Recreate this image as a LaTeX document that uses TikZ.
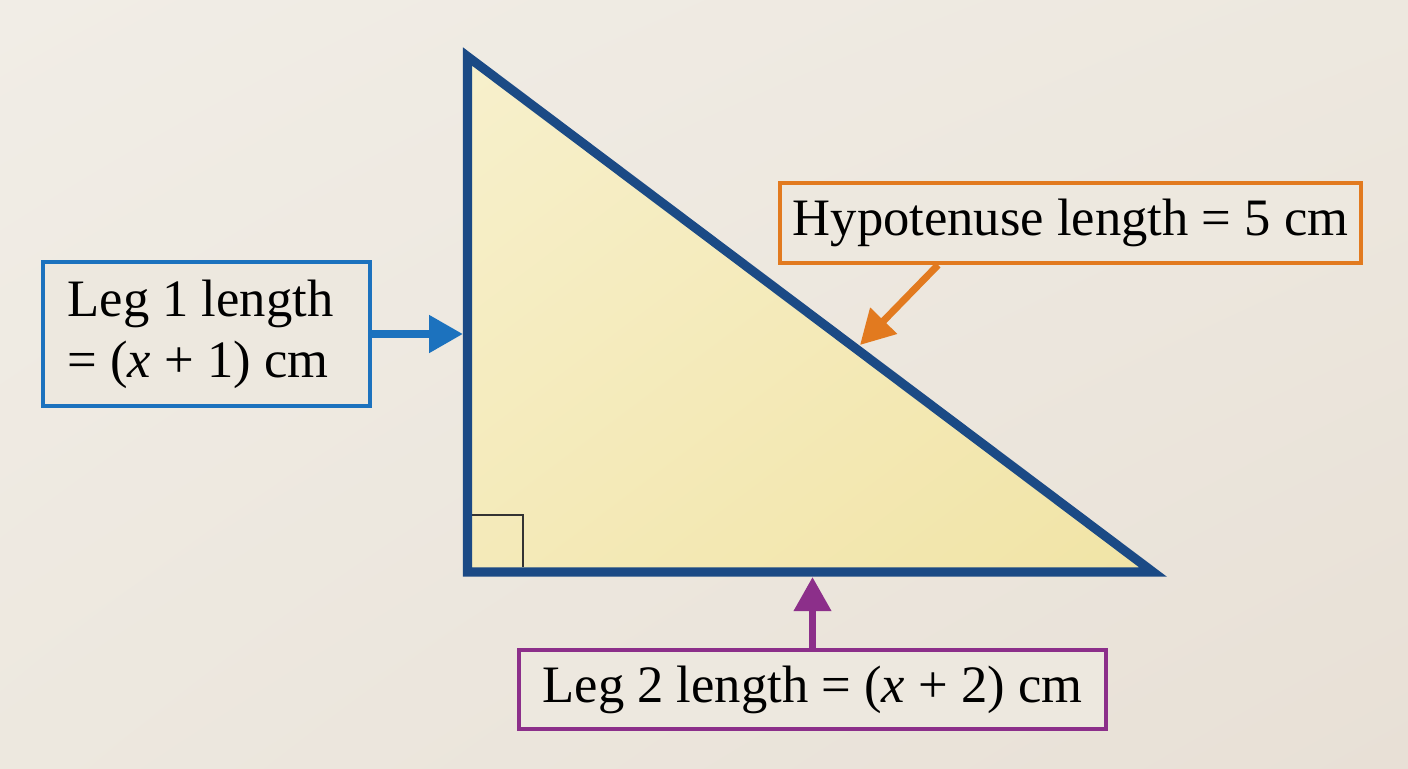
\documentclass[tikz,border=0pt]{standalone}
\usepackage{fontspec}
\setmainfont{Liberation Serif}
\usetikzlibrary{arrows.meta,shadings}
\definecolor{bgc}{HTML}{EDE8DF}
\definecolor{bgA}{HTML}{F1EDE6}
\definecolor{bgB}{HTML}{E8E0D6}
\definecolor{triA}{HTML}{F7F0CC}
\definecolor{triB}{HTML}{F1E4A6}
\definecolor{triM}{HTML}{F4EAB9}
\definecolor{tristroke}{HTML}{1B4A85}
\definecolor{blueC}{HTML}{1C72BE}
\definecolor{orangeC}{HTML}{E27A1F}
\definecolor{purpleC}{HTML}{8C2F8A}
\definecolor{markC}{HTML}{333333}
\tikzset{
  lbl/.style={draw, line width=2pt, fill=bgc, align=left, inner sep=0pt,
    font=\fontsize{26.3}{30.5}\selectfont, text=black},
  arr/.style={line width=4pt, -{Triangle[length=17pt,width=18pt]}},
}
\begin{document}
\begin{tikzpicture}[x=0.5pt,y=-0.5pt]
\shade[upper left=bgA, upper right=bgc, lower left=bgc, lower right=bgB] (0,0) rectangle (1408,768);
\useasboundingbox (0,0) rectangle (1408,768);
% triangle
\coordinate (A) at (467.5,56.5);
\coordinate (C) at (467.5,572);
\coordinate (B) at (1153,572);
\shade[upper left=triA, upper right=triM, lower left=triM, lower right=triB] (A) -- (C) -- (B) -- cycle;
\draw[markC, line width=1.4pt] (472,515) -- (523,515) -- (523,567);
\draw[tristroke, line width=4.6pt, line join=miter] (A) -- (C) -- (B) -- cycle;
% labels
\node[lbl, draw=blueC, minimum width=163.5pt, minimum height=72pt] (leg1) at (206.5,334)
  {Leg 1 length\hspace*{6pt}\\= (\textit{x} + 1) cm\hspace*{6pt}};
\node[lbl, draw=orangeC, minimum width=290.5pt, minimum height=40pt] (hyp) at (1070.5,223)
  {Hypotenuse length = 5 cm};
\node[lbl, draw=purpleC, minimum width=293.5pt, minimum height=39.5pt] (leg2) at (812.5,689.5)
  {Leg 2 length = (\textit{x} + 2) cm};
% arrow targets
\coordinate (t1) at (463,334);
\coordinate (t2) at (860,345);
\coordinate (t3) at (812.5,577);
\draw[arr, blueC] (leg1.east) -- (t1);
\draw[arr, orangeC, line width=3.5pt] (938,0 |- hyp.south) -- (t2);
\draw[arr, purpleC, line width=3.5pt] (leg2.north) -- (t3);
\end{tikzpicture}
\end{document}
